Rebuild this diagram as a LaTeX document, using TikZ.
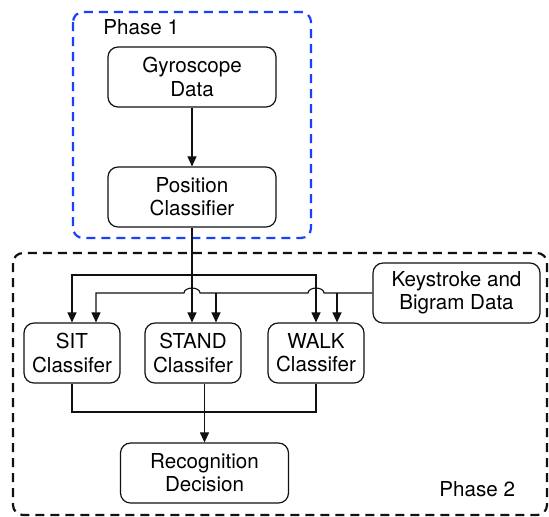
\documentclass[tikz,border=0pt]{standalone}
\usepackage{fontspec}
\setmainfont{TeX Gyre Heros}
\usepackage{tikz}
\usetikzlibrary{arrows.meta, positioning, calc}
\definecolor{phaseblue}{HTML}{1740FF}
\definecolor{corpblack}{HTML}{111111}

\begin{document}
\begin{tikzpicture}[x=0.5pt, y=0.5pt, font=\fontsize{10.3}{11.6}\selectfont,
    blockbox/.style={draw=corpblack, line width=0.6pt, rounded corners=5pt, align=center, inner sep=0pt},
    widebox/.style={blockbox, minimum width=84pt, minimum height=30pt},
    smallbox/.style={blockbox, minimum width=48pt, minimum height=30pt},
    link/.style={draw=corpblack, line width=0.55pt},
    arr/.style={link, -{Triangle[length=5pt, width=4.5pt]}},
    phasebox/.style={line width=1.1pt, rounded corners=5pt, dash pattern=on 4.5pt off 3pt},
    phaselabel/.style={anchor=west, inner sep=0pt}]
  \useasboundingbox (0,0) rectangle (549,-516);

  % phase frames
  \draw[phasebox, phaseblue] (73,-12) rectangle (311,-238);
  \draw[phasebox, corpblack] (13,-253) rectangle (547,-515);
  \node[phaselabel] (ph1) at (103,-27) {Phase 1};
  \node[phaselabel] (ph2) at (439,-489) {Phase 2};

  \node[widebox] (gyro) at (192,-77) {Gyroscope\\Data};
  \node[widebox] (pos) at (192,-197) {Position\\Classifier};
  \node[widebox, minimum width=83.5pt] (key) at (456.5,-293) {Keystroke and\\Bigram Data};
  \node[smallbox] (sit) at (72,-353) {SIT\\Classifer};
  \node[smallbox] (stand) at (193,-353) {STAND\\Classifer};
  \node[smallbox] (walk) at (316,-353) {WALK\\Classifer};
  \node[widebox] (rec) at (204.5,-473) {Recognition\\Decision};

  \draw[arr] (gyro) -- (pos);

  % position output to the three classifiers
  \coordinate (split) at (pos.south |- 0,-275);
  \draw[arr] (pos.south) -- (pos.south |- stand.north);
  \draw[arr] (split) -| (sit.north);
  \draw[arr] (split) -| (walk.north);

  % keystroke data, hopping over the crossings
  \coordinate (keyline) at (0,-293);
  \draw[arr] (key.west) -- (324,-293) arc[start angle=0, end angle=180, x radius=8, y radius=5]
    -- (200,-293) arc[start angle=0, end angle=180, x radius=8, y radius=5]
    -- ([xshift=12pt]sit.north |- keyline) -- ([xshift=12pt]sit.north);
  \draw[arr] ([xshift=11.5pt]stand.north |- keyline) -- ([xshift=11.5pt]stand.north);
  \draw[arr] ([xshift=10.5pt]walk.north |- keyline) -- ([xshift=10.5pt]walk.north);

  % merge into decision
  \coordinate (merge) at (0,-412);
  \draw[link] (sit.south) |- (merge -| walk.south) -- (walk.south);
  \draw[arr] (rec.north |- stand.south) -- (rec.north);
\end{tikzpicture}
\end{document}
